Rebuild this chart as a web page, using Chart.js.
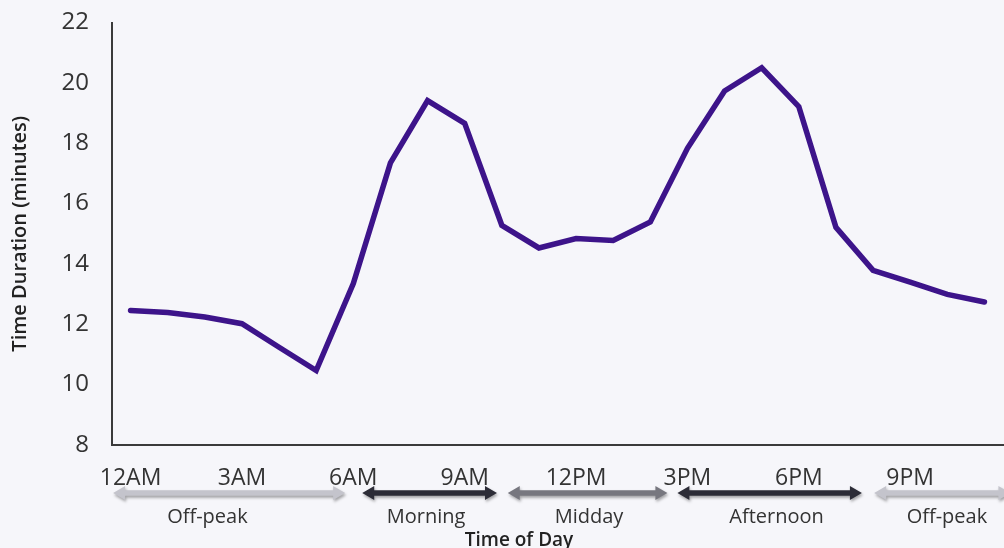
<!DOCTYPE html>
<html>
<head>
    <title>Time Duration by Time of Day</title>
    <script src="https://cdn.jsdelivr.net/npm/chart.js"></script>
    <style>
        html, body { margin: 0; padding: 0; background: #f6f6fa; }
        canvas { display: block; }
    </style>
</head>
<body>
    <canvas id="lineChart" width="1004" height="548"></canvas>

    <script>
        // hours of the day, one point per hour
        const hours = ["12AM", "1AM", "2AM", "3AM", "4AM", "5AM", "6AM", "7AM", "8AM", "9AM", "10AM", "11AM",
                       "12PM", "1PM", "2PM", "3PM", "4PM", "5PM", "6PM", "7PM", "8PM", "9PM", "10PM", "11PM"];
        const duration = [12.46, 12.39, 12.24, 12.02, 11.24, 10.47, 13.35, 17.35, 19.41, 18.66, 15.28, 14.53,
                          14.84, 14.78, 15.39, 17.83, 19.73, 20.50, 19.21, 15.21, 13.79, 13.40, 12.99, 12.74];
        const yTicks = [8, 10, 12, 14, 16, 18, 20, 22];

        // periods of the day shown as arrows under the axis (in hours)
        const periodNames = ["Off-peak", "Morning", "Midday", "Afternoon", "Off-peak"];
        const periodFrom = [-0.47, 6.24, 10.16, 14.73, 20.03];
        const periodTo = [5.78, 9.87, 14.46, 19.70, 23.70];
        const periodLabelAt = [2.07, 7.96, 12.35, 17.40, 21.99];
        const periodColors = ["#c4c4cc", "#2c2c37", "#77777f", "#2c2c37", "#c4c4cc"];

        const textColor = "#333333";

        const periodArrows = {
            id: "periodArrows",
            afterDraw(chart) {
                const ctx = chart.ctx;
                const x = chart.scales.x;
                const y = 493;
                const head = 12, half = 7, shaft = 2.7;
                ctx.save();
                periodNames.forEach((name, i) => {
                    const x1 = x.getPixelForValue(periodFrom[i]);
                    const x2 = x.getPixelForValue(periodTo[i]);
                    ctx.save();
                    ctx.shadowColor = "rgba(0, 0, 0, 0.35)";
                    ctx.shadowBlur = 3;
                    ctx.shadowOffsetX = 1;
                    ctx.shadowOffsetY = 2;
                    ctx.fillStyle = periodColors[i];
                    ctx.beginPath();
                    ctx.moveTo(x1, y);
                    ctx.lineTo(x1 + head, y - half);
                    ctx.lineTo(x1 + head, y - shaft);
                    ctx.lineTo(x2 - head, y - shaft);
                    ctx.lineTo(x2 - head, y - half);
                    ctx.lineTo(x2, y);
                    ctx.lineTo(x2 - head, y + half);
                    ctx.lineTo(x2 - head, y + shaft);
                    ctx.lineTo(x1 + head, y + shaft);
                    ctx.lineTo(x1 + head, y + half);
                    ctx.closePath();
                    ctx.fill();
                    ctx.restore();

                    ctx.fillStyle = textColor;
                    ctx.font = '20px "Open Sans"';
                    ctx.textAlign = "center";
                    ctx.textBaseline = "alphabetic";
                    ctx.fillText(name, x.getPixelForValue(periodLabelAt[i]), 523);
                });
                ctx.fillStyle = "#222222";
                ctx.font = '600 19px "Open Sans"';
                ctx.textAlign = "center";
                ctx.textBaseline = "alphabetic";
                ctx.fillText("Time of Day", 519, 546);
                ctx.restore();
            }
        };

        const ctx = document.getElementById("lineChart").getContext("2d");
        new Chart(ctx, {
            type: "line",
            data: {
                labels: hours,
                datasets: [{
                    label: "Time Duration",
                    data: duration,
                    borderColor: "#3d148a",
                    borderWidth: 5.5,
                    borderCapStyle: "round",
                    pointRadius: 0,
                    tension: 0,
                    fill: false
                }]
            },
            options: {
                responsive: false,
                animation: false,
                layout: { padding: { top: 22.5, right: 1, left: 0, bottom: 0 } },
                plugins: { legend: { display: false }, tooltip: { enabled: false } },
                scales: {
                    x: {
                        offset: true,
                        grid: { display: false },
                        border: { display: true, color: "#3a3a3a", width: 2 },
                        ticks: {
                            autoSkip: false,
                            maxRotation: 0,
                            minRotation: 0,
                            padding: 12,
                            color: textColor,
                            font: { family: "Open Sans", size: 23 },
                            callback: (v, i) => (i % 3 === 0 ? hours[i] : "")
                        },
                        afterFit: (scale) => { scale.height = 103; }
                    },
                    y: {
                        min: 8,
                        max: 22,
                        grid: { display: false },
                        border: { display: true, color: "#3a3a3a", width: 2 },
                        afterBuildTicks: (scale) => { scale.ticks = yTicks.map(v => ({ value: v })); },
                        ticks: {
                            padding: 15,
                            color: textColor,
                            font: { family: "Open Sans", size: 24 }
                        },
                        title: {
                            display: true,
                            text: "Time Duration (minutes)",
                            color: "#222222",
                            font: { family: "Open Sans", size: 20, weight: "600" },
                            padding: { top: 8, bottom: 0 }
                        },
                        afterFit: (scale) => {
                            scale.width = 112;
                            scale.paddingTop = 0;
                        }
                    }
                }
            },
            plugins: [periodArrows]
        });
    </script>
</body>
</html>
